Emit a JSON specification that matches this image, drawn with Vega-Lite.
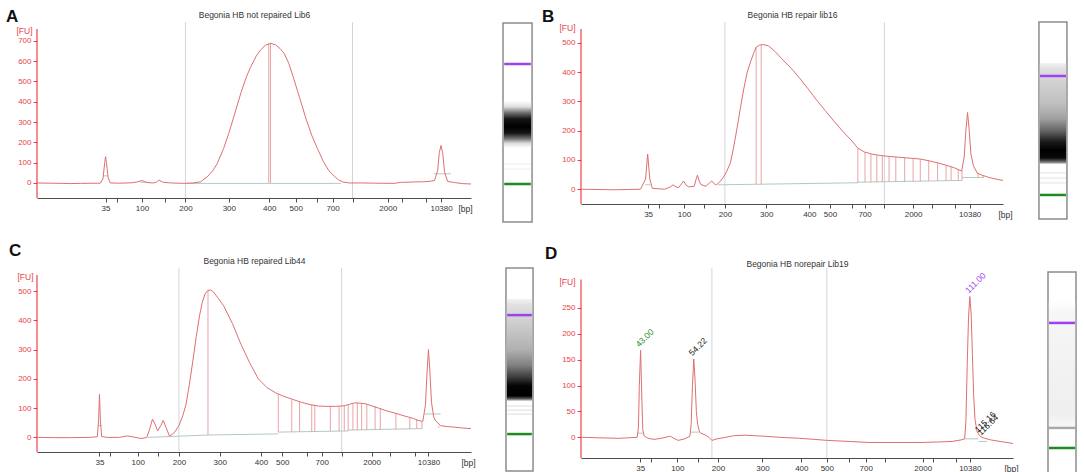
{
  "$schema": "https://vega.github.io/schema/vega-lite/v6.json",
  "background": "white",
  "padding": {"left": 5, "top": 8, "right": 0, "bottom": 0},
  "columns": 4,
  "bounds": "flush",
  "align": "each",
  "spacing": {"row": 46, "column": 0},
  "datasets": {
    "curveA": [{"t":0,"fu":0},{"t":3,"fu":-1},{"t":5.8,"fu":-2},{"t":7.7,"fu":-3},{"t":10,"fu":-2},{"t":14.6,"fu":-1},{"t":15.2,"fu":20},{"t":15.6,"fu":100},{"t":15.8,"fu":130},{"t":16.0,"fu":100},{"t":16.4,"fu":25},{"t":16.9,"fu":0},{"t":19,"fu":-1},{"t":21.9,"fu":1},{"t":23.1,"fu":5},{"t":24.2,"fu":12},{"t":24.8,"fu":7},{"t":25.4,"fu":2},{"t":26.9,"fu":0},{"t":27.6,"fu":5},{"t":28.1,"fu":15},{"t":28.6,"fu":8},{"t":29.2,"fu":3},{"t":31,"fu":0},{"t":33.8,"fu":-2},{"t":36,"fu":0},{"t":37.7,"fu":6},{"t":39.2,"fu":30},{"t":40.5,"fu":60},{"t":41.5,"fu":95},{"t":43,"fu":170},{"t":44.2,"fu":245},{"t":45.4,"fu":330},{"t":47,"fu":445},{"t":48.2,"fu":520},{"t":49.2,"fu":570},{"t":50.5,"fu":625},{"t":51.5,"fu":655},{"t":52.6,"fu":678},{"t":53.8,"fu":688},{"t":55,"fu":680},{"t":56,"fu":662},{"t":56.9,"fu":640},{"t":58,"fu":590},{"t":59,"fu":525},{"t":60,"fu":455},{"t":60.8,"fu":400},{"t":62,"fu":315},{"t":63.3,"fu":235},{"t":64.6,"fu":170},{"t":66,"fu":105},{"t":67.2,"fu":62},{"t":68.5,"fu":33},{"t":69.5,"fu":15},{"t":70.5,"fu":5},{"t":72,"fu":0},{"t":75,"fu":0},{"t":78,"fu":-1},{"t":82.3,"fu":-2},{"t":83.8,"fu":3},{"t":86.9,"fu":5},{"t":89,"fu":6},{"t":90.5,"fu":8},{"t":91.6,"fu":12},{"t":92.3,"fu":60},{"t":92.7,"fu":150},{"t":93.1,"fu":185},{"t":93.5,"fu":145},{"t":93.9,"fu":55},{"t":94.6,"fu":8},{"t":96.2,"fu":2},{"t":98,"fu":-3},{"t":100,"fu":-5}],
    "curveB": [{"t":0,"fu":0},{"t":4,"fu":-1},{"t":7.5,"fu":-2},{"t":11,"fu":-1},{"t":14.1,"fu":0},{"t":15.3,"fu":35},{"t":15.8,"fu":120},{"t":16.3,"fu":35},{"t":16.9,"fu":3},{"t":19.8,"fu":0},{"t":21.2,"fu":8},{"t":21.8,"fu":15},{"t":22.5,"fu":8},{"t":23.1,"fu":5},{"t":23.8,"fu":18},{"t":24.3,"fu":28},{"t":24.9,"fu":14},{"t":25.5,"fu":8},{"t":26.8,"fu":10},{"t":27.3,"fu":35},{"t":27.6,"fu":48},{"t":28.0,"fu":28},{"t":28.4,"fu":16},{"t":29.6,"fu":10},{"t":30.5,"fu":22},{"t":31.0,"fu":28},{"t":31.6,"fu":18},{"t":32.1,"fu":15},{"t":32.9,"fu":25},{"t":33.7,"fu":40},{"t":34.5,"fu":60},{"t":35.4,"fu":90},{"t":36.2,"fu":145},{"t":37.0,"fu":210},{"t":37.8,"fu":280},{"t":38.6,"fu":345},{"t":39.4,"fu":400},{"t":40.3,"fu":440},{"t":41.0,"fu":468},{"t":41.5,"fu":485},{"t":42.3,"fu":492},{"t":43.1,"fu":494},{"t":44.4,"fu":490},{"t":46.0,"fu":470},{"t":47.6,"fu":445},{"t":50.0,"fu":410},{"t":51.7,"fu":381},{"t":53.8,"fu":343},{"t":55.8,"fu":305},{"t":57.9,"fu":268},{"t":59.9,"fu":233},{"t":62.0,"fu":198},{"t":64.0,"fu":168},{"t":65.6,"fu":140},{"t":67.2,"fu":127},{"t":68.9,"fu":120},{"t":70.5,"fu":116},{"t":72.2,"fu":113},{"t":76.3,"fu":108},{"t":80.4,"fu":103},{"t":82.5,"fu":97},{"t":84.5,"fu":90},{"t":86.5,"fu":82},{"t":88.5,"fu":73},{"t":90.2,"fu":62},{"t":90.8,"fu":110},{"t":91.2,"fu":200},{"t":91.6,"fu":262},{"t":92.0,"fu":200},{"t":92.4,"fu":120},{"t":93.0,"fu":80},{"t":93.9,"fu":55},{"t":95.0,"fu":48},{"t":96.7,"fu":40},{"t":98.5,"fu":34},{"t":100,"fu":30}],
    "curveC": [{"t":0,"fu":0},{"t":4,"fu":-1},{"t":8,"fu":-1},{"t":12,"fu":0},{"t":13.9,"fu":2},{"t":14.2,"fu":60},{"t":14.4,"fu":147},{"t":14.6,"fu":60},{"t":14.9,"fu":3},{"t":16,"fu":0},{"t":19,"fu":0},{"t":20.8,"fu":5},{"t":22,"fu":2},{"t":24.0,"fu":-4},{"t":25.3,"fu":0},{"t":26.0,"fu":30},{"t":26.6,"fu":62},{"t":27.2,"fu":45},{"t":27.8,"fu":22},{"t":28.5,"fu":40},{"t":29.1,"fu":58},{"t":29.7,"fu":35},{"t":30.5,"fu":5},{"t":31.2,"fu":10},{"t":31.9,"fu":22},{"t":32.7,"fu":40},{"t":33.5,"fu":70},{"t":34.3,"fu":110},{"t":35.1,"fu":180},{"t":35.9,"fu":260},{"t":36.7,"fu":345},{"t":37.5,"fu":420},{"t":38.1,"fu":462},{"t":38.7,"fu":490},{"t":39.4,"fu":503},{"t":40.0,"fu":503},{"t":40.6,"fu":498},{"t":41.8,"fu":475},{"t":43.0,"fu":450},{"t":45.0,"fu":390},{"t":47.0,"fu":318},{"t":49.0,"fu":255},{"t":51.0,"fu":200},{"t":53.0,"fu":170},{"t":54.9,"fu":153},{"t":56.9,"fu":140},{"t":58.9,"fu":130},{"t":60.9,"fu":120},{"t":62.9,"fu":112},{"t":64.9,"fu":107},{"t":66.8,"fu":106},{"t":68.8,"fu":106},{"t":70.8,"fu":108},{"t":72.0,"fu":113},{"t":73.2,"fu":118},{"t":74.4,"fu":117},{"t":75.6,"fu":115},{"t":77.1,"fu":108},{"t":78.7,"fu":100},{"t":80.7,"fu":90},{"t":82.7,"fu":82},{"t":84.7,"fu":73},{"t":86.7,"fu":65},{"t":88.0,"fu":57},{"t":88.9,"fu":55},{"t":89.5,"fu":110},{"t":89.9,"fu":230},{"t":90.2,"fu":300},{"t":90.5,"fu":230},{"t":90.9,"fu":120},{"t":91.4,"fu":70},{"t":91.8,"fu":58},{"t":93.0,"fu":40},{"t":94.5,"fu":37},{"t":96.2,"fu":35},{"t":98,"fu":32},{"t":100,"fu":30}],
    "curveD": [{"t":0,"fu":0},{"t":4,"fu":-1},{"t":8.8,"fu":-2},{"t":11,"fu":-1},{"t":13.0,"fu":0},{"t":13.3,"fu":20},{"t":13.5,"fu":100},{"t":13.8,"fu":168},{"t":14.1,"fu":70},{"t":14.3,"fu":15},{"t":14.6,"fu":3},{"t":15.5,"fu":-2},{"t":16.9,"fu":-4},{"t":18.5,"fu":-2},{"t":20.7,"fu":2},{"t":21.5,"fu":-2},{"t":22.5,"fu":-6},{"t":24,"fu":-3},{"t":25.2,"fu":2},{"t":25.5,"fu":25},{"t":25.8,"fu":100},{"t":26.1,"fu":151},{"t":26.4,"fu":110},{"t":26.7,"fu":50},{"t":27.0,"fu":25},{"t":27.4,"fu":12},{"t":27.7,"fu":8},{"t":28.9,"fu":4},{"t":29.6,"fu":0},{"t":30.3,"fu":-6},{"t":31.5,"fu":-3},{"t":32.9,"fu":-1},{"t":35.3,"fu":3},{"t":38,"fu":4},{"t":42.6,"fu":2},{"t":46,"fu":0},{"t":50.6,"fu":-2},{"t":54,"fu":-4},{"t":57.0,"fu":-6},{"t":62,"fu":-8},{"t":66.7,"fu":-10},{"t":72,"fu":-10},{"t":78.7,"fu":-10},{"t":83,"fu":-9},{"t":85.9,"fu":-8},{"t":88.0,"fu":-5},{"t":88.8,"fu":-3},{"t":89.1,"fu":30},{"t":89.4,"fu":140},{"t":89.7,"fu":230},{"t":90.0,"fu":272},{"t":90.3,"fu":240},{"t":90.6,"fu":160},{"t":90.9,"fu":80},{"t":91.2,"fu":35},{"t":91.7,"fu":10},{"t":92.3,"fu":3},{"t":92.8,"fu":0},{"t":93.5,"fu":-2},{"t":94.8,"fu":-5},{"t":97,"fu":-8},{"t":100,"fu":-12}]
  },
  "concat": [
    {
      "width": 434, "height": 176,
      "title": {"text": "A", "anchor": "start", "frame": "bounds", "dx": -10, "offset": -9, "dy": 24, "baseline": "bottom"},
      "layer": [
        {"data": {"values": [{"t": 34.2}, {"t": 72.7}]},
         "mark": {"type": "rule", "color": "#d4d4e0", "strokeWidth": 1},
         "encoding": {"x": {"field": "t", "type": "quantitative", "scale": {"domain": [0, 100], "nice": false, "zero": false},
           "axis": {"orient": "top", "title": "Begonia HB not repaired Lib6", "domain": false, "ticks": false, "labels": false, "titlePadding": 3}}}},
        {"data": {"values": [{"t": 34.6, "t2": 70, "y": -2, "y2": -2}, {"t": 15.2, "t2": 16.4, "y": 35, "y2": 35}, {"t": 91.5, "t2": 95.4, "y": 45, "y2": 45}, {"t": 23.8, "t2": 25.5, "y": 3, "y2": 3}]},
         "mark": {"type": "rule", "color": "#b3c9c4"},
         "encoding": {"x": {"field": "t", "type": "quantitative", "axis": null}, "x2": {"field": "t2"}, "y": {"field": "y", "type": "quantitative", "axis": null}, "y2": {"field": "y2"}}},
        {"data": {"values": [{"t": 53.4, "y0": 0, "y1": 688}, {"t": 53.8, "y0": 0, "y1": 688}]},
         "mark": {"type": "rule", "color": "#e8a4a4"},
         "encoding": {"x": {"field": "t", "type": "quantitative", "axis": null}, "y": {"field": "y0", "type": "quantitative", "axis": null}, "y2": {"field": "y1"}}},
        {"data": {"values": [{}]},
         "mark": {"type": "rule", "color": "#e8434a", "strokeWidth": 1.2},
         "encoding": {"x": {"datum": 0, "type": "quantitative", "axis": null}, "y": {"datum": -74, "type": "quantitative", "axis": null}, "y2": {"datum": 759}}},
        {"data": {"name": "curveA"},
         "mark": {"type": "line", "color": "#de6f72", "strokeWidth": 1},
         "encoding": {
           "x": {"field": "t", "type": "quantitative",
             "axis": {"values": [15.8, 18.5, 24.2, 29.5, 34.2, 44.2, 53.5, 59.6, 64.6, 68.1, 72.7, 80.8, 84.2, 89.6, 93.1],
               "labelExpr": "datum.value==15.8?'35':datum.value==24.2?'100':datum.value==34.2?'200':datum.value==44.2?'300':datum.value==53.5?'400':datum.value==59.6?'500':datum.value==68.1?'700':datum.value==80.8?'2000':datum.value==93.1?'10380':''",
               "title": "[bp]", "titleX": 428, "titleY": 6, "titleAlign": "center", "titleBaseline": "top"}},
           "y": {"field": "fu", "type": "quantitative", "scale": {"domain": [-74, 793], "nice": false, "zero": false},
             "axis": {"values": [0, 100, 200, 300, 400, 500, 600, 700], "title": "[FU]", "titleX": -5, "titleY": 8}}}}
      ],
      "resolve": {"axis": {"x": "independent", "y": "independent"}}
    },
    {
      "width": 110, "height": 200,
      "layer": [
        {"data": {"values": [{"lane": "A"}]},
         "mark": {"type": "rect", "fill": "#ffffff", "stroke": "#8c8c8c", "strokeWidth": 1.5},
         "encoding": {"x": {"datum": 29.1, "type": "quantitative", "scale": {"domain": [0, 100], "nice": false, "zero": false}, "axis": null}, "x2": {"datum": 55.5},
           "y": {"datum": 0.5, "type": "quantitative", "scale": {"domain": [0, 100], "reverse": true, "nice": false, "zero": false}, "axis": null}, "y2": {"datum": 100}}},
        {"data": {"values": [{"from": 39.5, "to": 63.0}]},
         "mark": {"type": "rect", "fill": {"gradient": "linear", "x1": 0, "y1": 0, "x2": 0, "y2": 1, "stops": [{"offset": 0, "color": "#ffffff"}, {"offset": 0.12, "color": "#e0e0e0"}, {"offset": 0.25, "color": "#707070"}, {"offset": 0.38, "color": "#151515"}, {"offset": 0.55, "color": "#000000"}, {"offset": 0.68, "color": "#151515"}, {"offset": 0.8, "color": "#707070"}, {"offset": 0.9, "color": "#dcdcdc"}, {"offset": 1, "color": "#ffffff"}]}},
         "encoding": {"x": {"datum": 29.9, "type": "quantitative"}, "x2": {"datum": 54.7}, "y": {"field": "from", "type": "quantitative"}, "y2": {"field": "to"}}},
        {"data": {"values": [{"pos": 71}, {"pos": 73.5}]},
         "mark": {"type": "rule", "color": "#ececec", "strokeWidth": 1},
         "encoding": {"x": {"datum": 30.2, "type": "quantitative"}, "x2": {"datum": 54.4}, "y": {"field": "pos", "type": "quantitative"}}},
        {"data": {"values": [{"pos": 21.0, "marker": "upper"}, {"pos": 81.0, "marker": "lower"}]},
         "mark": {"type": "rule", "strokeWidth": 2.5},
         "encoding": {"x": {"datum": 30.2, "type": "quantitative"}, "x2": {"datum": 54.4}, "y": {"field": "pos", "type": "quantitative"},
           "color": {"field": "marker", "type": "nominal", "scale": {"domain": ["upper", "lower", "ladder", "peak"], "range": ["#a040f0", "#1f8a1f", "#a9a9a9", "#222222"]}, "legend": null}}}
      ]
    },
    {
      "width": 422, "height": 182,
      "title": {"text": "B", "anchor": "start", "frame": "bounds", "dx": -17, "offset": -9, "dy": 24, "baseline": "bottom"},
      "layer": [
        {"data": {"values": [{"t": 34.1}, {"t": 71.9}]},
         "mark": {"type": "rule", "color": "#d4d4e0", "strokeWidth": 1},
         "encoding": {"x": {"field": "t", "type": "quantitative", "scale": {"domain": [0, 100], "nice": false, "zero": false},
           "axis": {"orient": "top", "title": "Begonia HB repair lib16", "domain": false, "ticks": false, "labels": false, "titlePadding": 3}}}},
        {"data": {"values": [{"t": 32.5, "t2": 65.6, "y": 15, "y2": 22}, {"t": 65.6, "t2": 90.3, "y": 24, "y2": 30}, {"t": 90.3, "t2": 95.3, "y": 40, "y2": 40}, {"t": 15.2, "t2": 16.5, "y": 15, "y2": 15}]},
         "mark": {"type": "rule", "color": "#b3c9c4"},
         "encoding": {"x": {"field": "t", "type": "quantitative", "axis": null}, "x2": {"field": "t2"}, "y": {"field": "y", "type": "quantitative", "axis": null}, "y2": {"field": "y2"}}},
        {"data": {"values": [{"t": 41.5, "y0": 16, "y1": 485}, {"t": 42.7, "y0": 16, "y1": 493}, {"t": 65.6, "y0": 22, "y1": 140}, {"t": 67.3, "y0": 23, "y1": 127}, {"t": 68.7, "y0": 23, "y1": 121}, {"t": 70.1, "y0": 24, "y1": 117}, {"t": 71.4, "y0": 24, "y1": 115}, {"t": 73.0, "y0": 25, "y1": 112}, {"t": 74.6, "y0": 25, "y1": 110}, {"t": 76.7, "y0": 26, "y1": 107}, {"t": 78.7, "y0": 27, "y1": 105}, {"t": 80.4, "y0": 27, "y1": 103}, {"t": 82.4, "y0": 28, "y1": 97}, {"t": 84.5, "y0": 28, "y1": 90}, {"t": 86.5, "y0": 29, "y1": 82}, {"t": 87.7, "y0": 29, "y1": 77}, {"t": 89.4, "y0": 30, "y1": 67}, {"t": 90.3, "y0": 30, "y1": 62}, {"t": 94.1, "y0": 38, "y1": 54}, {"t": 95.3, "y0": 38, "y1": 47}]},
         "mark": {"type": "rule", "color": "#e8a4a4"},
         "encoding": {"x": {"field": "t", "type": "quantitative", "axis": null}, "y": {"field": "y0", "type": "quantitative", "axis": null}, "y2": {"field": "y1"}}},
        {"data": {"values": [{}]},
         "mark": {"type": "rule", "color": "#e8434a", "strokeWidth": 1.2},
         "encoding": {"x": {"datum": 0, "type": "quantitative", "axis": null}, "y": {"datum": -50.5, "type": "quantitative", "axis": null}, "y2": {"datum": 547}}},
        {"data": {"name": "curveB"},
         "mark": {"type": "line", "color": "#de6f72", "strokeWidth": 1},
         "encoding": {
           "x": {"field": "t", "type": "quantitative",
             "axis": {"values": [15.9, 18.4, 24.4, 29.1, 34.1, 43.9, 54.1, 59.0, 64.1, 67.2, 71.9, 78.7, 83.1, 88.6, 92.1],
               "labelExpr": "datum.value==15.9?'35':datum.value==24.4?'100':datum.value==34.1?'200':datum.value==43.9?'300':datum.value==54.1?'400':datum.value==59?'500':datum.value==67.2?'700':datum.value==78.7?'2000':datum.value==92.1?'10380':''",
               "title": "[bp]", "titleX": 424, "titleY": 6, "titleAlign": "center", "titleBaseline": "top"}},
           "y": {"field": "fu", "type": "quantitative", "scale": {"domain": [-50.5, 571], "nice": false, "zero": false},
             "axis": {"values": [0, 100, 200, 300, 400, 500], "title": "[FU]", "titleX": -6, "titleY": 5}}}}
      ],
      "resolve": {"axis": {"x": "independent", "y": "independent"}}
    },
    {
      "width": 70, "height": 197,
      "layer": [
        {"data": {"values": [{"lane": "B"}]},
         "mark": {"type": "rect", "fill": "#ffffff", "stroke": "#8c8c8c", "strokeWidth": 1.5},
         "encoding": {"x": {"datum": 37.1, "type": "quantitative", "scale": {"domain": [0, 100], "nice": false, "zero": false}, "axis": null}, "x2": {"datum": 77.1},
           "y": {"datum": 0, "type": "quantitative", "scale": {"domain": [0, 100], "reverse": true, "nice": false, "zero": false}, "axis": null}, "y2": {"datum": 100}}},
        {"data": {"values": [{"from": 20.8, "to": 72.1}]},
         "mark": {"type": "rect", "fill": {"gradient": "linear", "x1": 0, "y1": 0, "x2": 0, "y2": 1, "stops": [{"offset": 0, "color": "#f2f2f2"}, {"offset": 0.05, "color": "#e2e2e2"}, {"offset": 0.2, "color": "#d0d0d0"}, {"offset": 0.4, "color": "#c0c0c0"}, {"offset": 0.55, "color": "#a0a0a0"}, {"offset": 0.68, "color": "#606060"}, {"offset": 0.78, "color": "#1a1a1a"}, {"offset": 0.86, "color": "#000000"}, {"offset": 0.94, "color": "#0a0a0a"}, {"offset": 0.98, "color": "#707070"}, {"offset": 1, "color": "#e8e8e8"}]}},
         "encoding": {"x": {"datum": 38.3, "type": "quantitative"}, "x2": {"datum": 75.9}, "y": {"field": "from", "type": "quantitative"}, "y2": {"field": "to"}}},
        {"data": {"values": [{"pos": 76.6}, {"pos": 79.2}, {"pos": 81.7}]},
         "mark": {"type": "rule", "color": "#e2e2e2", "strokeWidth": 1},
         "encoding": {"x": {"datum": 38.6, "type": "quantitative"}, "x2": {"datum": 75.6}, "y": {"field": "pos", "type": "quantitative"}}},
        {"data": {"values": [{"pos": 27.4, "marker": "upper"}, {"pos": 87.8, "marker": "lower"}]},
         "mark": {"type": "rule", "strokeWidth": 2.5},
         "encoding": {"x": {"datum": 38.6, "type": "quantitative"}, "x2": {"datum": 75.6}, "y": {"field": "pos", "type": "quantitative"},
           "color": {"field": "marker", "type": "nominal", "scale": {"domain": ["upper", "lower", "ladder", "peak"], "range": ["#a040f0", "#1f8a1f", "#a9a9a9", "#222222"]}, "legend": null}}}
      ]
    },
    {
      "width": 434, "height": 184,
      "title": {"text": "C", "anchor": "start", "frame": "bounds", "dx": -8, "offset": 5, "dy": 26, "baseline": "bottom"},
      "layer": [
        {"data": {"values": [{"t": 32.7}, {"t": 70.2}]},
         "mark": {"type": "rule", "color": "#d4d4e0", "strokeWidth": 1},
         "encoding": {"x": {"field": "t", "type": "quantitative", "scale": {"domain": [0, 100], "nice": false, "zero": false},
           "axis": {"orient": "top", "title": "Begonia HB repaired Lib44", "domain": false, "ticks": false, "labels": false, "titlePadding": 3}}}},
        {"data": {"values": [{"t": 25.6, "t2": 39.4, "y": 0, "y2": 8}, {"t": 39.4, "t2": 55.6, "y": 8, "y2": 12}, {"t": 55.6, "t2": 71.7, "y": 18, "y2": 22}, {"t": 71.7, "t2": 88.7, "y": 25, "y2": 30}, {"t": 89.3, "t2": 93.0, "y": 80, "y2": 80}, {"t": 14.0, "t2": 14.9, "y": 40, "y2": 40}]},
         "mark": {"type": "rule", "color": "#b3c9c4"},
         "encoding": {"x": {"field": "t", "type": "quantitative", "axis": null}, "x2": {"field": "t2"}, "y": {"field": "y", "type": "quantitative", "axis": null}, "y2": {"field": "y2"}}},
        {"data": {"values": [{"t": 39.4, "y0": 8, "y1": 503}, {"t": 55.6, "y0": 18, "y1": 148}, {"t": 58.7, "y0": 19, "y1": 130}, {"t": 60.5, "y0": 19, "y1": 124}, {"t": 63.3, "y0": 20, "y1": 112}, {"t": 64.0, "y0": 20, "y1": 110}, {"t": 67.6, "y0": 21, "y1": 106}, {"t": 69.6, "y0": 21, "y1": 106}, {"t": 70.8, "y0": 22, "y1": 108}, {"t": 71.7, "y0": 22, "y1": 110}, {"t": 72.8, "y0": 24, "y1": 114}, {"t": 73.8, "y0": 24, "y1": 118}, {"t": 74.8, "y0": 25, "y1": 116}, {"t": 76.0, "y0": 25, "y1": 113}, {"t": 77.9, "y0": 26, "y1": 106}, {"t": 79.1, "y0": 26, "y1": 100}, {"t": 82.7, "y0": 27, "y1": 82}, {"t": 85.9, "y0": 28, "y1": 68}, {"t": 87.5, "y0": 29, "y1": 62}, {"t": 88.7, "y0": 29, "y1": 55}, {"t": 92.6, "y0": 33, "y1": 40}]},
         "mark": {"type": "rule", "color": "#e8a4a4"},
         "encoding": {"x": {"field": "t", "type": "quantitative", "axis": null}, "y": {"field": "y0", "type": "quantitative", "axis": null}, "y2": {"field": "y1"}}},
        {"data": {"values": [{}]},
         "mark": {"type": "rule", "color": "#e8434a", "strokeWidth": 1.2},
         "encoding": {"x": {"datum": 0, "type": "quantitative", "axis": null}, "y": {"datum": -50, "type": "quantitative", "axis": null}, "y2": {"datum": 555}}},
        {"data": {"name": "curveC"},
         "mark": {"type": "line", "color": "#de6f72", "strokeWidth": 1},
         "encoding": {
           "x": {"field": "t", "type": "quantitative",
             "axis": {"values": [14.4, 16.8, 23.2, 27.8, 32.7, 42.1, 51.6, 56.5, 62.3, 65.6, 70.2, 77.1, 81.3, 87.1, 90.2],
               "labelExpr": "datum.value==14.4?'35':datum.value==23.2?'100':datum.value==32.7?'200':datum.value==42.1?'300':datum.value==51.6?'400':datum.value==56.5?'500':datum.value==65.6?'700':datum.value==77.1?'2000':datum.value==90.2?'10380':''",
               "title": "[bp]", "titleX": 431, "titleY": 6, "titleAlign": "center", "titleBaseline": "top"}},
           "y": {"field": "fu", "type": "quantitative", "scale": {"domain": [-50, 579], "nice": false, "zero": false},
             "axis": {"values": [0, 100, 200, 300, 400, 500], "title": "[FU]", "titleX": -4, "titleY": 8}}}}
      ],
      "resolve": {"axis": {"x": "independent", "y": "independent"}}
    },
    {
      "width": 110, "height": 203,
      "layer": [
        {"data": {"values": [{"lane": "C"}]},
         "mark": {"type": "rect", "fill": "#ffffff", "stroke": "#8c8c8c", "strokeWidth": 1.5},
         "encoding": {"x": {"datum": 31.8, "type": "quantitative", "scale": {"domain": [0, 100], "nice": false, "zero": false}, "axis": null}, "x2": {"datum": 56.4},
           "y": {"datum": 0, "type": "quantitative", "scale": {"domain": [0, 100], "reverse": true, "nice": false, "zero": false}, "axis": null}, "y2": {"datum": 100}}},
        {"data": {"values": [{"from": 15.3, "to": 65.5}]},
         "mark": {"type": "rect", "fill": {"gradient": "linear", "x1": 0, "y1": 0, "x2": 0, "y2": 1, "stops": [{"offset": 0, "color": "#f2f2f2"}, {"offset": 0.06, "color": "#e0e0e0"}, {"offset": 0.25, "color": "#cccccc"}, {"offset": 0.5, "color": "#b0b0b0"}, {"offset": 0.65, "color": "#808080"}, {"offset": 0.76, "color": "#404040"}, {"offset": 0.85, "color": "#050505"}, {"offset": 0.95, "color": "#000000"}, {"offset": 0.98, "color": "#606060"}, {"offset": 1, "color": "#e6e6e6"}]}},
         "encoding": {"x": {"datum": 32.6, "type": "quantitative"}, "x2": {"datum": 55.6}, "y": {"field": "from", "type": "quantitative"}, "y2": {"field": "to"}}},
        {"data": {"values": [{"pos": 68.0}, {"pos": 70.0}, {"pos": 72.0}]},
         "mark": {"type": "rule", "color": "#dcdcdc", "strokeWidth": 1},
         "encoding": {"x": {"datum": 32.9, "type": "quantitative"}, "x2": {"datum": 55.3}, "y": {"field": "pos", "type": "quantitative"}}},
        {"data": {"values": [{"pos": 23.2, "marker": "upper"}, {"pos": 81.8, "marker": "lower"}]},
         "mark": {"type": "rule", "strokeWidth": 2.5},
         "encoding": {"x": {"datum": 32.9, "type": "quantitative"}, "x2": {"datum": 55.3}, "y": {"field": "pos", "type": "quantitative"},
           "color": {"field": "marker", "type": "nominal", "scale": {"domain": ["upper", "lower", "ladder", "peak"], "range": ["#a040f0", "#1f8a1f", "#a9a9a9", "#222222"]}, "legend": null}}}
      ]
    },
    {
      "width": 432, "height": 190,
      "title": {"text": "D", "anchor": "start", "frame": "bounds", "dx": -14, "offset": 5, "dy": 26, "baseline": "bottom"},
      "layer": [
        {"data": {"values": [{"t": 30.3}, {"t": 56.9}]},
         "mark": {"type": "rule", "color": "#d4d4e0", "strokeWidth": 1},
         "encoding": {"x": {"field": "t", "type": "quantitative", "scale": {"domain": [0, 100], "nice": false, "zero": false},
           "axis": {"orient": "top", "title": "Begonia HB norepair Lib19", "domain": false, "ticks": false, "labels": false, "titlePadding": 0}}}},
        {"data": {"values": [{"t": 13.1, "t2": 14.6, "y": 8, "y2": 8}, {"t": 25.3, "t2": 27.4, "y": 10, "y2": 10}, {"t": 88.8, "t2": 92.0, "y": -3, "y2": -3}, {"t": 92.0, "t2": 94.0, "y": -8, "y2": -8}]},
         "mark": {"type": "rule", "color": "#b3c9c4"},
         "encoding": {"x": {"field": "t", "type": "quantitative", "axis": null}, "x2": {"field": "t2"}, "y": {"field": "y", "type": "quantitative", "axis": null}, "y2": {"field": "y2"}}},
        {"data": {"values": [{}]},
         "mark": {"type": "rule", "color": "#e8434a", "strokeWidth": 1.2},
         "encoding": {"x": {"datum": 0, "type": "quantitative", "axis": null}, "y": {"datum": -40, "type": "quantitative", "axis": null}, "y2": {"datum": 305}}},
        {"data": {"name": "curveD"},
         "mark": {"type": "line", "color": "#de6f72", "strokeWidth": 1},
         "encoding": {
           "x": {"field": "t", "type": "quantitative",
             "axis": {"values": [13.7, 16.2, 22.3, 27.1, 31.7, 42.0, 51.0, 56.9, 62.0, 65.9, 70.3, 79.1, 81.5, 86.7, 90.0],
               "labelExpr": "datum.value==13.7?'35':datum.value==22.3?'100':datum.value==31.7?'200':datum.value==42?'300':datum.value==51?'400':datum.value==56.9?'500':datum.value==65.9?'700':datum.value==79.1?'2000':datum.value==90?'10380':''",
               "title": "[bp]", "titleX": 430, "titleY": 6, "titleAlign": "center", "titleBaseline": "top"}},
           "y": {"field": "fu", "type": "quantitative", "scale": {"domain": [-40, 327], "nice": false, "zero": false},
             "axis": {"values": [0, 50, 100, 150, 200, 250], "title": "[FU]", "titleX": -6, "titleY": 13}}}},
        {"data": {"values": [{"t": 13.8, "fu": 168, "label": "43.00", "kind": "lower"}, {"t": 26.1, "fu": 151, "label": "54.22", "kind": "peak"}, {"t": 90.1, "fu": 272, "label": "111.00", "kind": "upper"}, {"t": 92.3, "fu": 3, "label": "115.16", "kind": "peak"}, {"t": 92.9, "fu": -3, "label": "116.64", "kind": "peak"}]},
         "mark": {"type": "text", "angle": 315, "align": "left", "baseline": "bottom", "dx": 1, "dy": -1, "fontSize": 8.5, "font": "Liberation Sans Narrow, Liberation Sans"},
         "encoding": {"x": {"field": "t", "type": "quantitative", "axis": null}, "y": {"field": "fu", "type": "quantitative", "axis": null}, "text": {"field": "label"},
           "color": {"field": "kind", "type": "nominal", "scale": {"domain": ["upper", "lower", "ladder", "peak"], "range": ["#a040f0", "#1f8a1f", "#a9a9a9", "#222222"]}, "legend": null}}}
      ],
      "resolve": {"axis": {"x": "independent", "y": "independent"}}
    },
    {
      "width": 70, "height": 205,
      "layer": [
        {"data": {"values": [{"lane": "D"}]},
         "mark": {"type": "rect", "fill": "#ffffff", "stroke": "#8c8c8c", "strokeWidth": 1.5},
         "encoding": {"x": {"datum": 50, "type": "quantitative", "scale": {"domain": [0, 100], "nice": false, "zero": false}, "axis": null}, "x2": {"datum": 90},
           "y": {"datum": 1.95, "type": "quantitative", "scale": {"domain": [0, 100], "reverse": true, "nice": false, "zero": false}, "axis": null}, "y2": {"datum": 100}}},
        {"data": {"values": [{"from": 16.1, "to": 77.1}]},
         "mark": {"type": "rect", "fill": {"gradient": "linear", "x1": 0, "y1": 0, "x2": 0, "y2": 1, "stops": [{"offset": 0, "color": "#ffffff"}, {"offset": 0.1, "color": "#f6f6f6"}, {"offset": 0.5, "color": "#f2f2f2"}, {"offset": 0.9, "color": "#efefef"}, {"offset": 1, "color": "#f6f6f6"}]}},
         "encoding": {"x": {"datum": 51.2, "type": "quantitative"}, "x2": {"datum": 88.8}, "y": {"field": "from", "type": "quantitative"}, "y2": {"field": "to"}}},
        {"data": {"values": [{"pos": 26.8, "marker": "upper"}, {"pos": 78.0, "marker": "ladder"}, {"pos": 87.8, "marker": "lower"}]},
         "mark": {"type": "rule", "strokeWidth": 2.5},
         "encoding": {"x": {"datum": 51.4, "type": "quantitative"}, "x2": {"datum": 88.6}, "y": {"field": "pos", "type": "quantitative"},
           "color": {"field": "marker", "type": "nominal", "scale": {"domain": ["upper", "lower", "ladder", "peak"], "range": ["#a040f0", "#1f8a1f", "#a9a9a9", "#222222"]}, "legend": null}}}
      ]
    }
  ],
  "config": {
    "view": {"stroke": null},
    "font": "Liberation Sans",
    "title": {"font": "Liberation Sans", "fontSize": 17, "fontWeight": "bold", "color": "#111111"},
    "axis": {"grid": false, "labelFont": "Liberation Sans Narrow, Liberation Sans", "labelFontSize": 8, "titleFont": "Liberation Sans Narrow, Liberation Sans", "titleFontSize": 8.5, "titleFontWeight": "normal", "tickSize": 4, "labelPadding": 2},
    "axisX": {"domainColor": "#4d4d4d", "tickColor": "#4d4d4d", "labelColor": "#333333", "titleColor": "#333333", "labelFlush": false, "labelOverlap": false},
    "axisY": {"domain": false, "tickColor": "#e8434a", "labelColor": "#e8434a", "titleColor": "#e8434a", "titleAngle": 0, "titleAlign": "right", "titleBaseline": "middle", "labelOverlap": false}
  }
}
